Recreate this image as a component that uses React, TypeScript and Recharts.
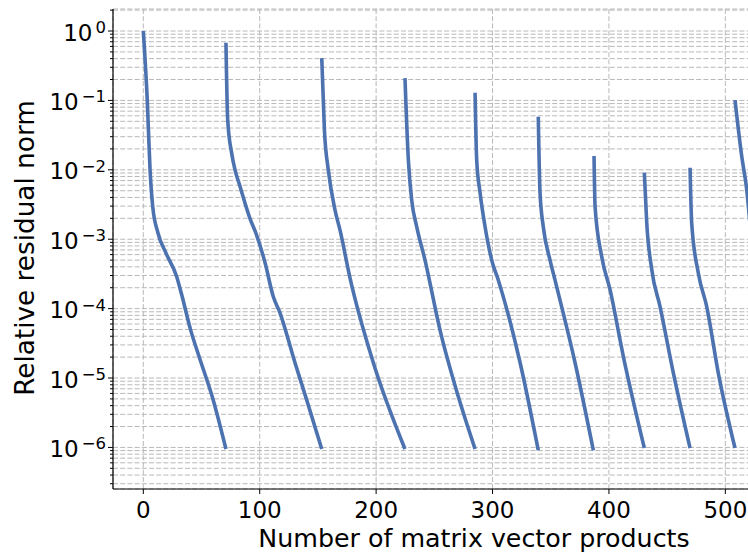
import React from 'react';
import { LineChart, Line, XAxis, YAxis, CartesianGrid, Label } from 'recharts';

// Each restart cycle: matrix-vector product count and relative residual norm
const cycle1X = [0, 3.4, 5.8, 8.1, 12.6, 19.5, 28.7, 33, 40.7, 47.9, 60.1, 71];
const cycle1Y = [1.0, 0.101, 0.01, 0.00295, 0.00123, 0.00063, 0.000288, 0.000158, 4.9e-5, 2.04e-5, 4.8e-6, 9.5e-7];

const cycle2X = [71, 72.5, 75.9, 78.8, 83.1, 92, 96.5, 104.6, 111.7, 117.4, 130.3, 140.4, 153.3];
const cycle2Y = [0.676, 0.0525, 0.0174, 0.01, 0.00575, 0.00191, 0.00125, 0.000457, 0.000148, 8.7e-5, 1.66e-5, 4.8e-6, 9.5e-7];

const cycle3X = [153.3, 155.6, 158.9, 164.7, 169, 177.6, 197.6, 224.8];
const cycle3Y = [0.407, 0.0372, 0.01, 0.00263, 0.00135, 0.000275, 1.66e-5, 9.5e-7];

const cycle4X = [224.8, 227.7, 230.6, 234.9, 242, 254.9, 270.6, 285];
const cycle4Y = [0.209, 0.0138, 0.00363, 0.00151, 0.0005, 4.9e-5, 5.4e-6, 9.5e-7];

const cycle5X = [285, 286.4, 289.3, 293.6, 299.3, 305, 323.7, 339.3];
const cycle5Y = [0.129, 0.0138, 0.00468, 0.00151, 0.0005, 0.000257, 1.66e-5, 9.1e-7];

const cycle6X = [339.3, 340.8, 343.6, 349.4, 353.7, 370.9, 386.6];
const cycle6Y = [0.0582, 0.00468, 0.00151, 0.0005, 0.000257, 1.66e-5, 9.1e-7];

const cycle7X = [387.2, 388.1, 393.8, 401, 412.4, 430.4];
const cycle7Y = [0.0158, 0.00295, 0.000562, 0.000186, 2.04e-5, 9.8e-7];

const cycle8X = [430.4, 432.5, 436.8, 443.9, 455.4, 469.7];
const cycle8Y = [0.00912, 0.0017, 0.000363, 0.000107, 1.17e-5, 9.8e-7];

const cycle9X = [469.7, 471.1, 476.8, 484, 494, 508.3];
const cycle9Y = [0.0107, 0.0017, 0.000324, 0.000107, 1.17e-5, 9.8e-7];

const cycle10X = [508.3, 514.1, 518.4, 521];
const cycle10Y = [0.101, 0.0155, 0.00513, 0.00178];

const cyclesX = [cycle1X, cycle2X, cycle3X, cycle4X, cycle5X, cycle6X, cycle7X, cycle8X, cycle9X, cycle10X];
const cyclesY = [cycle1Y, cycle2Y, cycle3Y, cycle4Y, cycle5Y, cycle6Y, cycle7Y, cycle8Y, cycle9Y, cycle10Y];

const X_TICKS = [0, 100, 200, 300, 400, 500];
const Y_MAJOR_EXPONENTS = [-7, -6, -5, -4, -3, -2, -1, 0];
const Y_MINOR_MULTIPLIERS = [1, 2, 3, 4, 5, 6, 7, 8, 9];

const X_DOMAIN = [-26.03, 594.2];
const Y_DOMAIN = [2.518e-7, 2.075];

const yTicks: number[] = [];
Y_MAJOR_EXPONENTS.forEach((e) => {
  Y_MINOR_MULTIPLIERS.forEach((m) => {
    const v = m * Math.pow(10, e);
    if (v >= Y_DOMAIN[0] && v <= Y_DOMAIN[1]) yTicks.push(v);
  });
});

const seriesData = cyclesX.map((xs, i) => xs.map((x, j) => ({ x, y: cyclesY[i][j] })));

const FONT = 'DejaVu Sans';
const LINE_COLOR = '#4c72b0';
const GRID_COLOR = '#b8b8b8';
const AXIS_X = 113;
const TICK_FONT = 23;
const SUP_FONT = 16.5;

const YTick = (props: any) => {
  const { y, payload } = props;
  const v = payload.value;
  const lg = Math.log10(v);
  const e = Math.round(lg);
  const major = Math.abs(lg - e) < 1e-6;
  const sup = e === 0 ? '0' : '\u2212' + Math.abs(e);
  const supW = e === 0 ? 0.636 * SUP_FONT : 1.474 * SUP_FONT;
  const right = AXIS_X - 7;
  return (
    <g>
      <line x1={AXIS_X - (major ? 5 : 3)} x2={AXIS_X} y1={y} y2={y} stroke="#000" strokeWidth={1} />
      {major && (
        <g>
          <text x={right - supW - 3} y={y + 9.5} textAnchor="end" fontSize={TICK_FONT} fontFamily={FONT} fill="#000">
            10
          </text>
          <text x={right} y={y + 2} textAnchor="end" fontSize={SUP_FONT} fontFamily={FONT} fill="#000">
            {sup}
          </text>
        </g>
      )}
    </g>
  );
};

const XTick = (props: any) => {
  const { x, y, payload } = props;
  return (
    <g>
      <line x1={x} x2={x} y1={y} y2={y + 5} stroke="#000" strokeWidth={1} />
      <text x={x} y={y + 29} textAnchor="middle" fontSize={TICK_FONT} fontFamily={FONT} fill="#000">
        {payload.value}
      </text>
    </g>
  );
};

export default function App() {
  return (
    <div style={{ position: 'fixed', left: 0, top: 0, width: 748, height: 553, overflow: 'hidden', background: '#fff' }}>
      <LineChart width={860} height={553} margin={{ top: 9, right: 25, bottom: 0, left: 0 }}>
        <CartesianGrid stroke={GRID_COLOR} strokeWidth={1} strokeDasharray="5 2.2" />
        <XAxis
          type="number"
          dataKey="x"
          domain={X_DOMAIN}
          allowDataOverflow
          ticks={X_TICKS}
          interval={0}
          height={64}
          tickSize={0}
          tickMargin={0}
          tickLine={false}
          axisLine={{ stroke: '#000', strokeWidth: 1.2 }}
          tick={<XTick />}
        >
          <Label
            content={() => (
              <text x={474} y={547} textAnchor="middle" fontSize={25.3} fontFamily={FONT} fill="#000">
                Number of matrix vector products
              </text>
            )}
          />
        </XAxis>
        <XAxis
          xAxisId="top"
          orientation="top"
          type="number"
          domain={X_DOMAIN}
          allowDataOverflow
          height={0}
          tick={false}
          tickLine={false}
          axisLine={{ stroke: '#000', strokeWidth: 1.2 }}
        />
        <YAxis
          type="number"
          dataKey="y"
          scale="log"
          domain={Y_DOMAIN}
          allowDataOverflow
          ticks={yTicks}
          interval={0}
          width={113}
          tickSize={0}
          tickMargin={0}
          tickLine={false}
          axisLine={{ stroke: '#000', strokeWidth: 1.2 }}
          tick={<YTick />}
        >
          <Label
            content={() => (
              <text
                transform="translate(34, 248) rotate(-90)"
                textAnchor="middle"
                fontSize={26.3}
                fontFamily={FONT}
                fill="#000"
              >
                Relative residual norm
              </text>
            )}
          />
        </YAxis>
        {seriesData.map((d, i) => (
          <Line
            key={i}
            data={d}
            dataKey="y"
            type="monotone"
            stroke={LINE_COLOR}
            strokeWidth={3.6}
            dot={false}
            isAnimationActive={false}
          />
        ))}
      </LineChart>
    </div>
  );
}
